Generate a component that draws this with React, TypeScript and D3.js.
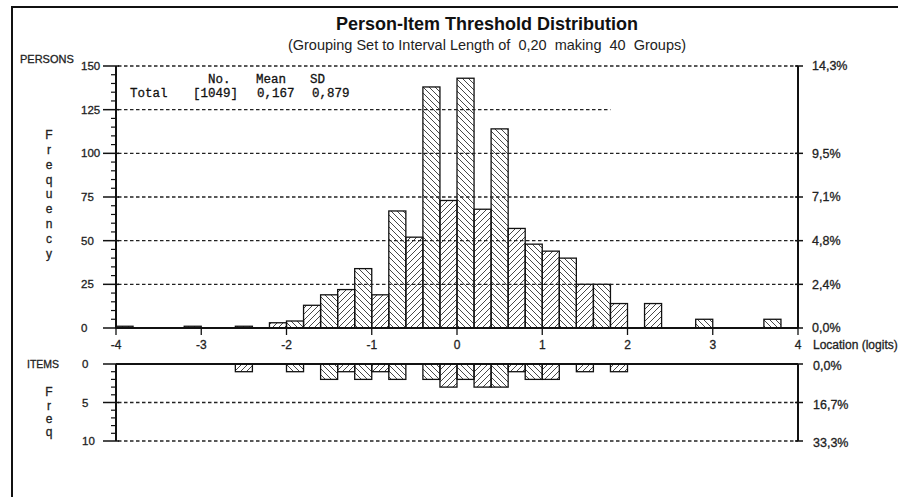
import React from "react";
import * as d3 from "d3";

// ---- data ----
const binStart = -4;
const binWidth = 0.2;
// person threshold counts per 0.2-logit group (40 groups from -4 to 4)
const personCounts = [
  1, 0, 0, 0, 1, 0, 0, 1, 0, 3,
  4, 13, 19, 22, 34, 19, 67, 52, 138, 73,
  143, 68, 114, 57, 48, 44, 40, 25, 25, 14,
  0, 14, 0, 0, 5, 0, 0, 0, 5, 0,
];
// item threshold counts per group
const itemCounts = [
  0, 0, 0, 0, 0, 0, 0, 1, 0, 0,
  1, 0, 2, 1, 2, 1, 2, 0, 2, 3,
  2, 3, 3, 1, 2, 2, 0, 1, 0, 1,
  0, 0, 0, 0, 0, 0, 0, 0, 0, 0,
];
const xTicks = [-4, -3, -2, -1, 0, 1, 2, 3, 4];
const personTicks = [0, 25, 50, 75, 100, 125, 150];
const personPctTicks = [0, 25, 50, 75, 100, 150];
const itemTicks = [0, 5, 10];
const statsHeader = ["No.", "Mean", "SD"];
const statsRow = ["Total", "[1049]", "0,167", "0,879"];
const title = "Person-Item Threshold Distribution";
const subtitle = "(Grouping Set to Interval Length of\u00a0\u00a00,20\u00a0\u00a0making\u00a0\u00a040\u00a0\u00a0Groups)";

export default function App() {
  const totalPersons = d3.sum(personCounts);
  const totalItems = d3.sum(itemCounts);
  const x = d3.scaleLinear().domain([-4, 4]).range([116, 798]);
  const yP = d3.scaleLinear().domain([0, 150]).range([328, 66]);
  const yI = d3.scaleLinear().domain([0, 10]).range([364, 441]);
  const font = "'Liberation Sans', Arial, sans-serif";
  const txt = "#222";
  const heavy = { stroke: "#222", strokeWidth: 0.3 };
  const pct = (v: number, tot: number) =>
    (Math.round((v / tot) * 1000) / 10).toFixed(1).replace(".", ",") + "%";

  const minorP = d3.range(0, 151, 5).filter((v) => v % 25 !== 0);
  const minorI = d3.range(0, 11, 1).filter((v) => v % 5 !== 0);
  const freqP = "Frequency".split("");
  const freqI = "Freq".split("");

  return (
    <svg
      width={898}
      height={497}
      style={{ position: "absolute", left: 0, top: 0, display: "block", background: "#fff" }}
      fontFamily={font}
    >
      <defs>
        <pattern id="hb" patternUnits="userSpaceOnUse" width={6} height={6}>
          <path d="M0,0 L6,6 M-1,5 L1,7 M5,-1 L7,1" stroke="#333" strokeWidth={0.9} />
        </pattern>
        <pattern id="hf" patternUnits="userSpaceOnUse" width={6} height={6}>
          <path d="M0,6 L6,0 M-1,1 L1,-1 M5,7 L7,5" stroke="#333" strokeWidth={0.9} />
        </pattern>
      </defs>
      <rect x={0} y={0} width={898} height={497} fill="#fff" />
      {/* frame */}
      <path d="M12,497 L12,7 L898,7" fill="none" stroke="#111" strokeWidth={2} />

      {/* titles */}
      <text x={487} y={30} textAnchor="middle" fontSize={18} fontWeight="bold" fill="#111">
        {title}
      </text>
      <text x={487} y={50} textAnchor="middle" fontSize={14.5} fill={txt}>
        {subtitle}
      </text>
      <text x={20} y={63} fontSize={11} fill={txt} {...heavy}>PERSONS</text>

      {/* person bars */}
      {personCounts.map((c, i) =>
        c > 0 ? (
          <rect
            key={"p" + i}
            x={x(binStart + i * binWidth)}
            y={yP(c)}
            width={x(binStart + (i + 1) * binWidth) - x(binStart + i * binWidth)}
            height={yP(0) - yP(c)}
            fill={i % 2 === 0 ? "url(#hb)" : "url(#hf)"}
            stroke="#111"
            strokeWidth={1.3}
          />
        ) : null
      )}

      {/* person gridlines */}
      {personTicks
        .filter((v) => v > 0)
        .map((v) => (
          <line
            key={"g" + v}
            x1={x(-4) + 2}
            x2={v === 125 ? x(1.8) : x(4)}
            y1={yP(v)}
            y2={yP(v)}
            stroke="#222"
            strokeWidth={1.3}
            strokeDasharray="3.5,2.5"
          />
        ))}

      {/* left person axis */}
      <line x1={x(-4)} x2={x(-4)} y1={yP(150)} y2={yP(0)} stroke="#111" strokeWidth={2} />
      {minorP.map((v) => (
        <line key={"mp" + v} x1={x(-4) - 5} x2={x(-4)} y1={yP(v)} y2={yP(v)} stroke="#111" strokeWidth={1.2} />
      ))}
      {personTicks.map((v) => (
        <g key={"tp" + v}>
          <line x1={103} x2={119} y1={yP(v)} y2={yP(v)} stroke="#111" strokeWidth={1.5} />
          <text x={81} y={yP(v)} dy="0.35em" fontSize={11.5} fill={txt} {...heavy}>{v}</text>
        </g>
      ))}
      {freqP.map((ch, i) => (
        <text key={"fp" + i} x={49} y={135 + i * 14.8} dy="0.35em" textAnchor="middle" fontSize={12} fill={txt} {...heavy}>
          {ch}
        </text>
      ))}

      {/* right person axis */}
      <line x1={x(4)} x2={x(4)} y1={yP(150)} y2={yP(0)} stroke="#111" strokeWidth={2} />
      {personPctTicks.map((v) => (
        <g key={"rp" + v}>
          <line x1={x(4) - 3} x2={x(4) + 5} y1={yP(v)} y2={yP(v)} stroke="#111" strokeWidth={1.5} />
          <text x={812} y={yP(v)} dy="0.35em" fontSize={12.5} fill={txt} {...heavy}>{pct(v, totalPersons)}</text>
        </g>
      ))}

      {/* x axis */}
      <line x1={x(-4)} x2={x(4)} y1={yP(0)} y2={yP(0)} stroke="#111" strokeWidth={2} />
      {xTicks.map((t) => (
        <g key={"x" + t}>
          <line x1={x(t)} x2={x(t)} y1={yP(0)} y2={yP(0) + 7} stroke="#111" strokeWidth={1.3} />
          <text x={x(t)} y={349} textAnchor="middle" fontSize={12} fill={txt} {...heavy}>{t}</text>
        </g>
      ))}
      <text x={813} y={349} fontSize={12} fill={txt} {...heavy}>Location (logits)</text>

      {/* stats */}
      <g fontFamily="'Liberation Mono', 'Courier New', monospace" fontSize={12.5} fill="#111" stroke="#111" strokeWidth={0.3}>
        {statsHeader.map((s, i) => (
          <text key={"sh" + i} x={[208, 256, 310][i]} y={83}>{s}</text>
        ))}
        {statsRow.map((s, i) => (
          <text key={"sr" + i} x={[130, 193, 257, 312][i]} y={97}>{s}</text>
        ))}
      </g>

      {/* ITEMS panel */}
      <text x={27} y={364} dy="0.35em" fontSize={11} fill={txt} {...heavy} textLength={32} lengthAdjust="spacingAndGlyphs">ITEMS</text>
      {itemCounts.map((c, i) =>
        c > 0 ? (
          <rect
            key={"it" + i}
            x={x(binStart + i * binWidth)}
            y={yI(0)}
            width={x(binStart + (i + 1) * binWidth) - x(binStart + i * binWidth)}
            height={yI(c) - yI(0)}
            fill={i % 2 === 0 ? "url(#hb)" : "url(#hf)"}
            stroke="#111"
            strokeWidth={1.3}
          />
        ) : null
      )}
      {itemTicks
        .filter((v) => v > 0)
        .map((v) => (
          <line
            key={"gi" + v}
            x1={x(-4) + 2}
            x2={x(4)}
            y1={yI(v)}
            y2={yI(v)}
            stroke="#222"
            strokeWidth={1.3}
            strokeDasharray="3.5,2.5"
          />
        ))}
      <line x1={x(-4)} x2={x(4)} y1={yI(0)} y2={yI(0)} stroke="#111" strokeWidth={2} />
      <line x1={x(-4)} x2={x(-4)} y1={yI(0)} y2={yI(10)} stroke="#111" strokeWidth={2} />
      <line x1={x(4)} x2={x(4)} y1={yI(0)} y2={yI(10)} stroke="#111" strokeWidth={2} />
      {minorI.map((v) => (
        <line key={"mi" + v} x1={x(-4) - 5} x2={x(-4)} y1={yI(v)} y2={yI(v)} stroke="#111" strokeWidth={1.2} />
      ))}
      {itemTicks.map((v) => (
        <g key={"ti" + v}>
          <line x1={103} x2={119} y1={yI(v)} y2={yI(v)} stroke="#111" strokeWidth={1.5} />
          <text x={82} y={yI(v)} dy="0.35em" fontSize={11.5} fill={txt} {...heavy}>{v}</text>
          <line x1={x(4) - 3} x2={x(4) + 5} y1={yI(v)} y2={yI(v)} stroke="#111" strokeWidth={1.5} />
          <text x={813} y={yI(v) + 2} dy="0.35em" fontSize={12.5} fill={txt} {...heavy}>{pct(v, totalItems)}</text>
        </g>
      ))}
      {freqI.map((ch, i) => (
        <text key={"fi" + i} x={49} y={392 + i * 13.3} dy="0.35em" textAnchor="middle" fontSize={12} fill={txt} {...heavy}>
          {ch}
        </text>
      ))}
    </svg>
  );
}
